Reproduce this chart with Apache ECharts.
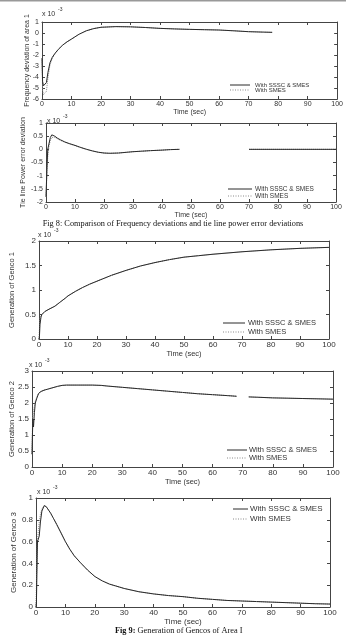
<!DOCTYPE html>
<html>
<head>
<meta charset="utf-8">
<script src="https://cdn.jsdelivr.net/npm/echarts@6/dist/echarts.min.js"></script>
<style>
html,body{margin:0;padding:0;background:#fff;}
#chart{width:346px;height:638px;}
</style>
</head>
<body>
<div id="chart"></div>
<script>
// ---------- DATA (values in units of 1e-3) ----------
const seriesNames = ['With SSSC & SMES', 'With SMES'];

// Plot 1: Frequency deviation of area 1
const freqTime = [0,0.2,0.5,1,1.5,2,2.7,3.5,4.4,5.5,7,8.5,10,12.5,15,17.5,20,25,30,35,40,45,50,55,60,65,70,75,78];
const freqSsscSmes = [-2.3,-4.4,-4.8,-4.9,-4.5,-3.6,-2.7,-2.2,-1.85,-1.5,-1.1,-0.8,-0.55,-0.12,0.2,0.4,0.52,0.58,0.56,0.5,0.42,0.37,0.33,0.3,0.27,0.2,0.12,0.08,0.06];
const freqSmes = [-2.3,-5.2,-5.6,-5.7,-5.3,-4.1,-2.9,-2.3,-1.9,-1.5,-1.1,-0.8,-0.55,-0.12,0.2,0.4,0.52,0.58,0.56,0.5,0.42,0.37,0.33,0.3,0.27,0.2,0.12,0.08,0.06];

// Plot 2: Tie line power error deviation
const tieTime = [0,0.3,0.6,1,1.5,2,3,4,5,6.5,8,10,12,14,16,18,20,22,25,28,30,33,36,40,43,46,58,70,80,90,100];
const tieSsscSmes = [-1.8,-0.8,0.0,0.2,0.45,0.55,0.5,0.42,0.36,0.28,0.22,0.15,0.07,0.0,-0.06,-0.11,-0.14,-0.15,-0.14,-0.11,-0.09,-0.07,-0.05,-0.03,-0.01,0.0,null,0,0,0,0];
const tieSmes = [-1.8,-1.0,-0.3,0.1,0.35,0.45,0.46,0.4,0.34,0.27,0.21,0.14,0.07,0.0,-0.06,-0.11,-0.14,-0.15,-0.14,-0.11,-0.09,-0.07,-0.05,-0.03,-0.01,0.0,null,0,0,0,0];

// Plot 3: Generation of Genco 1
const g1Time = [0,0.15,0.35,0.7,1,2,3.5,5.5,7,9,10,12.5,15,17.5,20,25,30,35,40,45,50,55,60,70,80,90,100];
const g1SsscSmes = [0,0.05,0.3,0.45,0.5,0.56,0.61,0.67,0.74,0.83,0.88,0.97,1.05,1.12,1.18,1.3,1.4,1.49,1.56,1.62,1.67,1.7,1.73,1.78,1.82,1.85,1.87];
const g1Smes = [0,0.2,0.4,0.48,0.51,0.56,0.61,0.67,0.74,0.83,0.88,0.97,1.05,1.12,1.18,1.3,1.4,1.49,1.56,1.62,1.67,1.7,1.73,1.78,1.82,1.85,1.87];

// Plot 4: Generation of Genco 2
const g2Time = [0,0.15,0.3,0.5,0.8,1.1,1.6,2.2,3,4,5.5,7,8.5,10,11.5,15,20,23,25,30,35,40,45,50,55,60,65,68,70,72,75,80,85,90,95,100];
const g2SsscSmes = [0.4,1.0,1.5,1.25,1.7,2.0,2.15,2.3,2.36,2.4,2.44,2.48,2.52,2.55,2.56,2.56,2.56,2.55,2.53,2.49,2.45,2.41,2.37,2.33,2.29,2.26,2.23,2.21,null,2.19,2.18,2.16,2.15,2.14,2.13,2.12];
const g2Smes = [0.4,1.2,1.6,1.75,1.9,2.05,2.18,2.3,2.36,2.4,2.44,2.48,2.52,2.55,2.56,2.56,2.56,2.55,2.53,2.49,2.45,2.41,2.37,2.33,2.29,2.26,2.23,2.21,null,2.19,2.18,2.16,2.15,2.14,2.13,2.12];

// Plot 5: Generation of Genco 3
const g3Time = [0,0.15,0.3,0.5,0.8,1.1,1.5,2,2.8,3.5,4,5,6,7,8.5,10,11.5,13,15,17.5,20,22.5,25,27.5,30,35,40,45,50,55,60,65,70,75,80,85,90,95,100];
const g3SsscSmes = [0,0.05,0.3,0.6,0.61,0.65,0.78,0.88,0.93,0.92,0.9,0.86,0.81,0.76,0.68,0.6,0.53,0.47,0.41,0.34,0.28,0.24,0.21,0.19,0.17,0.14,0.12,0.105,0.095,0.08,0.07,0.06,0.055,0.05,0.045,0.04,0.035,0.03,0.027];
const g3Smes = [0,0.2,0.4,0.6,0.7,0.78,0.85,0.9,0.93,0.92,0.9,0.86,0.81,0.76,0.68,0.6,0.53,0.47,0.41,0.34,0.28,0.24,0.21,0.19,0.17,0.14,0.12,0.105,0.095,0.08,0.07,0.06,0.055,0.05,0.045,0.04,0.035,0.03,0.027];

const yNames = ['Frequency deviation of area 1', 'Tie line Power error deviation', 'Generation of Genco 1', 'Generation of Genco 2', 'Generation of Genco 3'];
const yRanges = [[-6, 1, 1], [-2, 1, 0.5], [0, 2, 0.5], [0, 3, 0.5], [0, 1, 0.2]];
const xName = 'Time (sec)';
const scaleText = 'x 10';
const scaleExp = '-3';
const caption8 = 'Fig 8: Comparison of Frequency deviations and tie line power error deviations';
const caption9Bold = 'Fig 9:';
const caption9 = ' Generation of Gencos of Area I';

const plots = [
  [freqTime, freqSsscSmes, freqSmes],
  [tieTime, tieSsscSmes, tieSmes],
  [g1Time, g1SsscSmes, g1Smes],
  [g2Time, g2SsscSmes, g2Smes],
  [g3Time, g3SsscSmes, g3Smes]
];

// ---------- LAYOUT ----------
const layout = [
  {grid:{left:42, top:22, width:299, height:77}, fs:7, nfs:7, yGap:11.5, xGap:7, leg:{x1:230, x2:250, tx:255, y1:85, y2:90, fs:6}, scale:[42,15]},
  {grid:{left:46, top:123, width:290, height:79}, fs:7, nfs:7, yGap:19.5, xGap:8, leg:{x1:228, x2:252, tx:255, y1:189, y2:196, fs:6.5}, scale:[47,122]},
  {grid:{left:39, top:241, width:290, height:98}, fs:8, nfs:7.5, yGap:23, xGap:6, leg:{x1:223, x2:245, tx:248, y1:323, y2:332, fs:7.5}, scale:[38,236]},
  {grid:{left:30, top:371, width:303, height:96}, fs:8, nfs:7.5, yGap:16, xGap:8, leg:{x1:227, x2:247, tx:249, y1:450, y2:458, fs:7.5}, scale:[29,366]},
  {grid:{left:36, top:498, width:294, height:109}, fs:8, nfs:8, yGap:18, xGap:10, leg:{x1:233, x2:248, tx:250, y1:509, y2:519, fs:8}, scale:[37,493]}
];

const FONT = 'Liberation Sans';
const AX = '#444';
const TXT = '#333';
const SOLID = '#2a2a2a';
const DOT = '#8a8a8a';

const pair = (t, v) => t.map((x, i) => [x, v[i] === null ? '-' : v[i]]);

const grids = [], xAxes = [], yAxes = [], series = [], graphics = [];

layout.forEach((L, i) => {
  grids.push(Object.assign({containLabel:false}, L.grid));
  const tick = {show:true, inside:true, length:3, lineStyle:{color:AX, width:1}};
  const line = {show:true, onZero:false, lineStyle:{color:AX, width:1}};
  xAxes.push({
    gridIndex:i, type:'value', min:0, max:100, interval:10, position:'bottom',
    axisLine:line, axisTick:tick, splitLine:{show:false},
    axisLabel:{fontSize:L.fs, color:TXT, margin:2, fontFamily:FONT},
    name:xName, nameLocation:'middle', nameGap:L.xGap,
    nameTextStyle:{fontSize:L.nfs, color:TXT, fontFamily:FONT}
  });
  xAxes.push({
    gridIndex:i, type:'value', min:0, max:100, interval:10, position:'top',
    axisLine:line, axisTick:tick, splitLine:{show:false}, axisLabel:{show:false}
  });
  const r = yRanges[i];
  yAxes.push({
    gridIndex:i, type:'value', min:r[0], max:r[1], interval:r[2], position:'left',
    axisLine:line, axisTick:tick, splitLine:{show:false},
    axisLabel:{fontSize:L.fs, color:TXT, margin:3, fontFamily:FONT},
    name:yNames[i], nameLocation:'middle', nameGap:L.yGap, nameMoveOverlap:false,
    nameTextStyle:{fontSize:L.nfs, color:TXT, fontFamily:FONT}
  });
  yAxes.push({
    gridIndex:i, type:'value', min:r[0], max:r[1], interval:r[2], position:'right',
    axisLine:line, axisTick:tick, splitLine:{show:false}, axisLabel:{show:false}
  });
  const [t, a, b] = plots[i];
  series.push({
    name:seriesNames[1], type:'line', xAxisIndex:2*i, yAxisIndex:2*i,
    data:pair(t, b), symbol:'none', silent:true,
    lineStyle:{color:DOT, width:1, type:'dotted'}, itemStyle:{color:DOT}
  });
  series.push({
    name:seriesNames[0], type:'line', xAxisIndex:2*i, yAxisIndex:2*i,
    data:pair(t, a), symbol:'none', silent:true,
    lineStyle:{color:SOLID, width:1, type:'solid'}, itemStyle:{color:SOLID}
  });
  // legend samples
  const g = L.leg;
  graphics.push({type:'line', shape:{x1:g.x1, y1:g.y1, x2:g.x2, y2:g.y1}, silent:true,
    style:{stroke:SOLID, lineWidth:1}});
  graphics.push({type:'line', shape:{x1:g.x1, y1:g.y2, x2:g.x2, y2:g.y2}, silent:true,
    style:{stroke:DOT, lineWidth:1, lineDash:[1, 1.5]}});
  graphics.push({type:'text', x:g.tx, y:g.y1, silent:true,
    style:{text:seriesNames[0], fontSize:g.fs, fill:TXT, fontFamily:FONT, verticalAlign:'middle'}});
  graphics.push({type:'text', x:g.tx, y:g.y2, silent:true,
    style:{text:seriesNames[1], fontSize:g.fs, fill:TXT, fontFamily:FONT, verticalAlign:'middle'}});
  graphics.push({type:'text', left:L.scale[0], top:L.scale[1]-4,
    style:{text:scaleText, fontSize:7, fill:TXT, fontFamily:FONT}});
  graphics.push({type:'text', left:L.scale[0]+16, top:L.scale[1]-8,
    style:{text:scaleExp, fontSize:5, fill:TXT, fontFamily:FONT}});
});

graphics.push({type:'rect', left:0, top:0, shape:{width:346, height:1.5}, style:{fill:'#999'}});
graphics.push({type:'text', left:'center', top:220,
  style:{text:caption8, fontSize:8.3, fill:'#111', fontFamily:'Liberation Serif'}});
graphics.push({type:'text', left:115, top:627,
  style:{rich:{b:{fontWeight:'bold', fontSize:8.3, fontFamily:'Liberation Serif', fill:'#111'},
               n:{fontSize:8.3, fontFamily:'Liberation Serif', fill:'#111'}},
         text:'{b|' + caption9Bold + '}{n|' + caption9 + '}'}});

const chart = echarts.init(document.getElementById('chart'), null, {renderer:'canvas'});
chart.setOption({
  backgroundColor:'#fff',
  animation:false,
  grid:grids, xAxis:xAxes, yAxis:yAxes, series:series, graphic:graphics
});
</script>
</body>
</html>
